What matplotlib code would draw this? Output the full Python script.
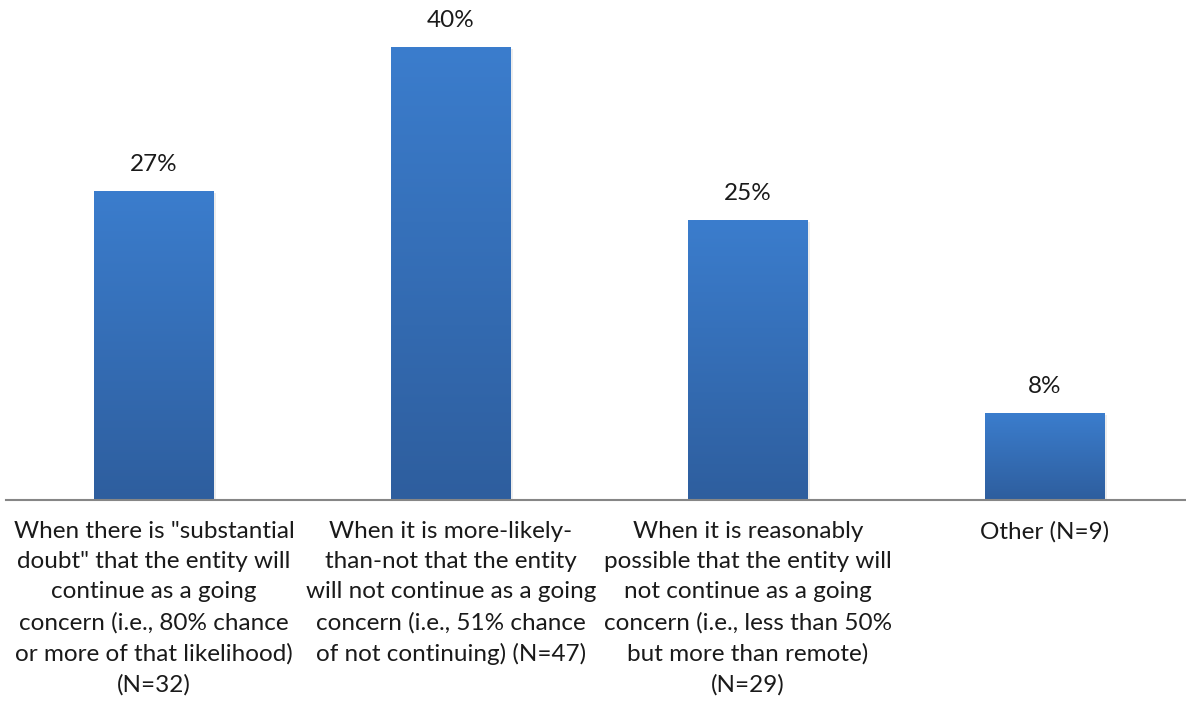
import matplotlib
matplotlib.use("Agg")
import matplotlib.pyplot as plt
import numpy as np

categories = [
    'When there is "substantial\ndoubt" that the entity will\ncontinue as a going\nconcern (i.e., 80% chance\nor more of that likelihood)\n(N=32)',
    'When it is more-likely-\nthan-not that the entity\nwill not continue as a going\nconcern (i.e., 51% chance\nof not continuing) (N=47)',
    'When it is reasonably\npossible that the entity will\nnot continue as a going\nconcern (i.e., less than 50%\nbut more than remote)\n(N=29)',
    'Other (N=9)',
]
counts = [32, 47, 29, 9]
pct = [c / sum(counts) * 100 for c in counts]

plt.rcParams['font.family'] = ['Lato', 'DejaVu Sans']

W, H = 1186, 711
fig = plt.figure(figsize=(W / 100, H / 100), dpi=100)
ax = fig.add_axes([5.5 / W, (H - 500) / H, 1188 / W, 500 / H])

x = np.arange(len(categories))
bars = ax.bar(x, pct, width=120 / 297, color='none', edgecolor='none', zorder=2)

# vertical gradient inside each bar
grad = np.linspace(0, 1, 256).reshape(-1, 1)
cmap = matplotlib.colors.LinearSegmentedColormap.from_list('g', ['#2e5e9e', '#3b7dcd'])
for b in bars:
    x0, w, h = b.get_x(), b.get_width(), b.get_height()
    # faint shadow
    ax.add_patch(plt.Rectangle((x0 + 0.004, 0), w + 0.004, h - 0.1, color='#000000', alpha=0.07, zorder=1, lw=0))
    ax.imshow(grad, extent=(x0, x0 + w, 0, h), origin='lower', cmap=cmap, aspect='auto', zorder=2)

for xi, p in zip(x, pct):
    ax.text(xi, p + 2.4, f'{p:.0f}%', ha='center', va='center', fontsize=17.5, color='#1a1a1a')

ax.set_xlim(-0.5, 3.5)
ax.set_ylim(0, 44.4)
ax.set_xticks(x)
ax.set_xticklabels(categories, fontsize=17.5, color='#1a1a1a', linespacing=1.54, va='top')
ax.tick_params(axis='x', length=0, pad=15)
ax.set_yticks([])
for s in ['top', 'right', 'left']:
    ax.spines[s].set_visible(False)
ax.spines['bottom'].set_color('#868686')
ax.spines['bottom'].set_linewidth(1.5)
ax.spines['bottom'].set_zorder(3)

fig.savefig('out.png', dpi=100)
